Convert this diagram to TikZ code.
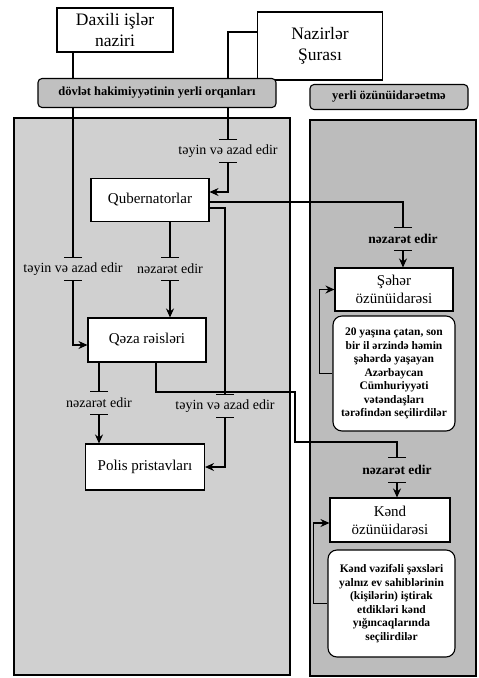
\documentclass[tikz,border=0pt]{standalone}
\usepackage{fontspec}
\setmainfont{Liberation Serif}
\usetikzlibrary{arrows.meta}
\definecolor{PanelGray}{RGB}{208,208,208}
\definecolor{PanelDark}{RGB}{188,188,188}
\definecolor{GroupGray}{RGB}{192,192,192}
\tikzset{
  >=Stealth,
  box/.style={draw,line width=1.1pt,fill=white,align=center,font=\fontsize{15}{18}\selectfont,inner sep=2pt},
  topbox/.style={box,font=\fontsize{17.5}{21}\selectfont},
  group/.style={draw,line width=1.1pt,rounded corners=4pt,fill=GroupGray,font=\bfseries\fontsize{12.5}{14}\selectfont,inner sep=2pt},
  note/.style={draw,line width=1.1pt,rounded corners=9pt,fill=white,align=center,font=\bfseries\fontsize{11.5}{13.5}\selectfont,inner sep=2pt},
  rel/.style={font=\fontsize{14}{16}\selectfont,inner sep=1pt,minimum height=21pt},
  relb/.style={rel,font=\bfseries\fontsize{13.5}{16}\selectfont},
  link/.style={line width=1.1pt,-{Bar[width=18pt]}},
  arrowlink/.style={line width=1.1pt,{Bar[width=18pt]}-{Stealth[length=9pt,width=8pt]}},
  plain/.style={line width=1.1pt,-{Stealth[length=9pt,width=8pt]}},
  panel/.style={draw,line width=1.3pt}
}
\begin{document}
\begin{tikzpicture}[x=1pt,y=-1pt]
  \useasboundingbox (0,0) rectangle (479,678);
  \draw[panel,fill=PanelGray] (14,118) rectangle (290,675);
  \draw[panel,fill=PanelDark] (310,120) rectangle (476,676);

  \node[topbox,minimum width=116,minimum height=44] (dax) at (115,30) {Daxili işlər\\naziri};
  \node[topbox,minimum width=125,minimum height=68] (naz) at (320,46) {Nazirlər\\Şurası};
  \node[box,minimum width=118,minimum height=43] (qub) at (150,200) {Qubernatorlar};
  \node[box,minimum width=118,minimum height=44] (qeza) at (147,340) {Qəza rəisləri};
  \node[box,minimum width=119,minimum height=46] (polis) at (145,467) {Polis pristavları};
  \node[box,minimum width=118,minimum height=43] (seher) at (394,289.5) {Şəhər\\özünüidarəsi};
  \node[box,minimum width=120,minimum height=44] (kend) at (390,520) {Kənd\\özünüidarəsi};
  \node[note,minimum width=122,minimum height=115] (sehernote) at (394,373.5) {20 yaşına çatan, son\\bir il ərzində həmin\\şəhərdə yaşayan\\Azərbaycan\\Cümhuriyyəti\\vətəndaşları\\tərəfindən seçilirdilər};
  \node[note,minimum width=127,minimum height=107] (kendnote) at (391.5,603.5) {Kənd vəzifəli şəxsləri\\yalnız ev sahiblərinin\\(kişilərin) iştirak\\etdikləri kənd\\yığıncaqlarında\\seçilirdilər};

  \node[rel] (l1) at (73,269) {təyin və azad edir};
  \node[rel] (l2) at (228,151) {təyin və azad edir};
  \node[rel] (l3) at (170,269) {nəzarət edir};
  \node[rel,minimum height=22pt] (l4) at (99,403) {nəzarət edir};
  \node[rel,minimum height=22pt] (l5) at (225,406) {təyin və azad edir};
  \node[relb,minimum height=22pt] (l6) at (403,239) {nəzarət edir};
  \node[relb,minimum height=24pt] (l7) at (397,470) {nəzarət edir};

  \coordinate (bendA) at (295,392);
  \coordinate (bendB) at (295,442);

  \draw[link] (l1.north |- dax.south) -- (l1.north);
  \draw[arrowlink] (l1.south) |- ([yshift=-5pt]qeza.west);
  \draw[link] ([yshift=14pt]naz.west) -| (l2.north);
  \draw[arrowlink] (l2.south) |- ([yshift=8pt]qub.east);
  \draw[link] ([yshift=-2pt]qub.east) -| (l6.north);
  \draw[arrowlink] (l6.south) -- (l6.south |- seher.north);
  \draw[link] ([yshift=-8pt]qub.east) -| (l5.north);
  \draw[arrowlink] (l5.south) |- (polis.east);
  \draw[link] (l3.north |- qub.south) -- (l3.north);
  \draw[arrowlink] (l3.south) -- (l3.south |- qeza.north);
  \draw[link] (l4.north |- qeza.south) -- (l4.north);
  \draw[arrowlink] (l4.south) -- (l4.south |- polis.north);
  \draw[link] ([xshift=9pt]qeza.south) |- (bendA) -- (bendB) -| (l7.north);
  \draw[arrowlink] (l7.south) -- (l7.south |- kend.north);
  \draw[plain] (sehernote.west) -| ([xshift=-15pt]seher.west) -- (seher.west);
  \draw[plain] (kendnote.west) -| ([xshift=-16pt,yshift=-3pt]kend.west) -- ([yshift=-3pt]kend.west);

  \node[group,minimum width=238,minimum height=29] (stateorg) at (157,93) {dövlət hakimiyyətinin yerli orqanları};
  \node[group,minimum width=158,minimum height=25] (localgov) at (389,97) {yerli özünüidarəetmə};
\end{tikzpicture}
\end{document}
